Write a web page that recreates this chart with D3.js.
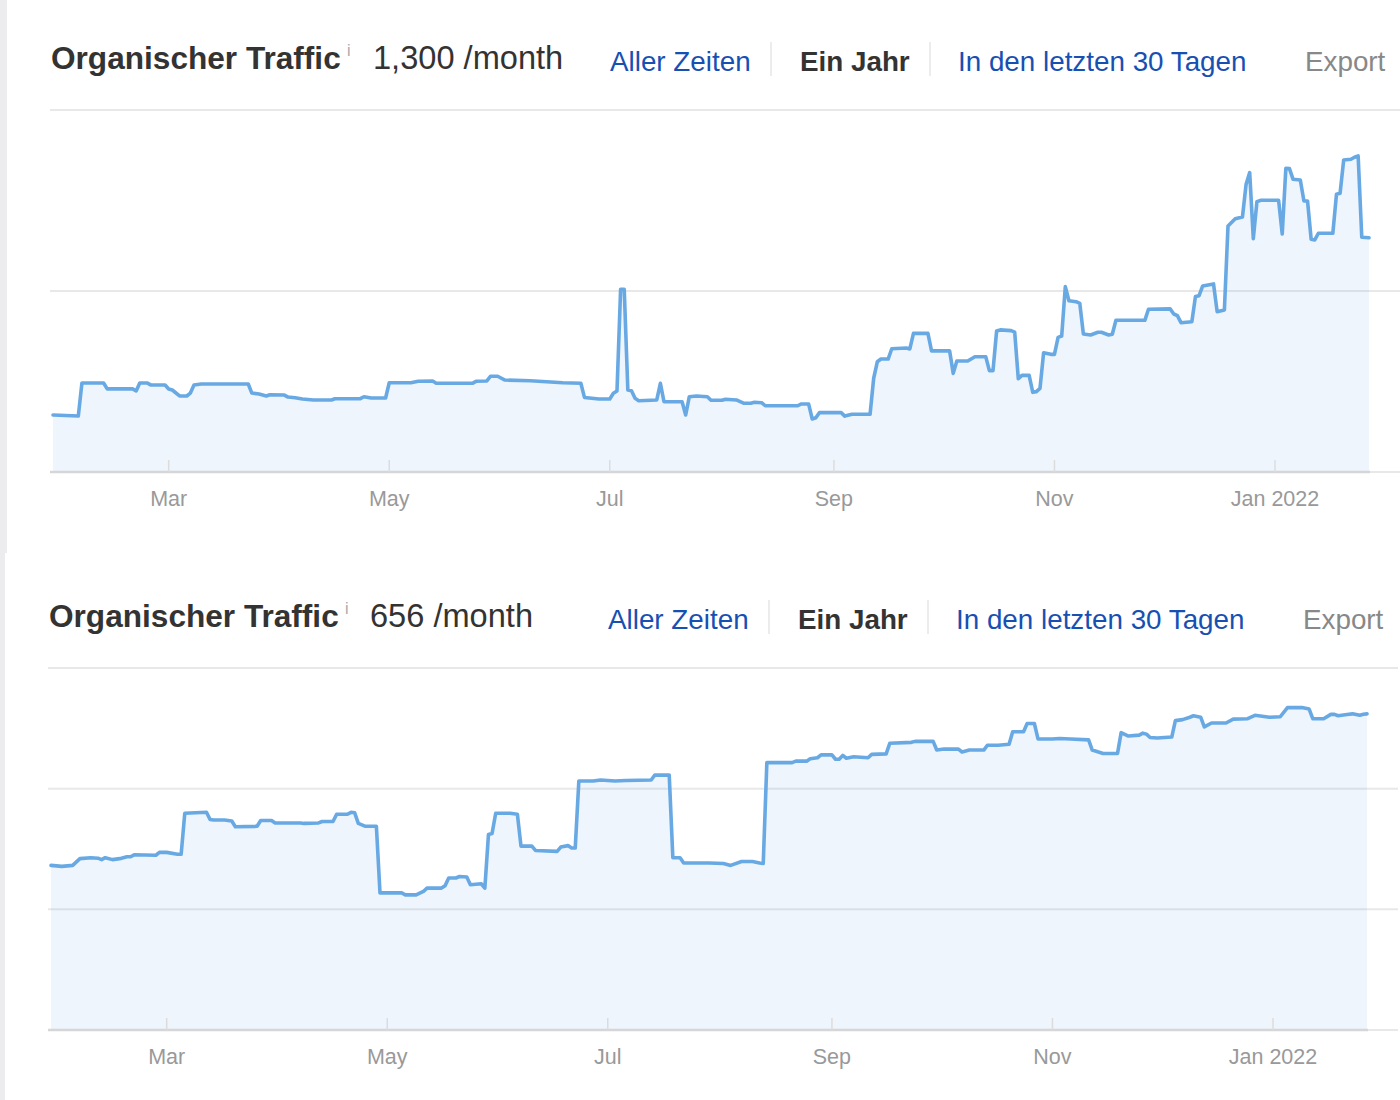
<!DOCTYPE html>
<html><head><meta charset="utf-8">
<script src="https://cdn.jsdelivr.net/npm/d3@7"></script>
<style>
body{margin:0;background:#fff;}
svg{display:block;font-family:"Liberation Sans",Arial,Helvetica,sans-serif;}
</style>
</head><body><svg id="c" width="1400" height="1100"></svg>
<script>
// ---------- data ----------
const startDate = "2021-01-28";
const endDate = "2022-01-27";
const tickDates = ["2021-03-01","2021-05-01","2021-07-01","2021-09-01","2021-11-01","2022-01-01"];
const tickLabels = ["Mar","May","Jul","Sep","Nov","Jan 2022"];
const panelTitles = ["Organischer Traffic","Organischer Traffic"];
const panelValues = ["1,300 /month","656 /month"];
const navLinks = ["Aller Zeiten","Ein Jahr","In den letzten 30 Tagen","Export"];

// days since startDate
const topDays = [0,7,8,14,15,22,23,24,26,27,31,32,33,35,37,38,39,41,54,55,
 57,59,60,64,65,67,69,72,77,78,85,86,88,92,93,99,101,105,106,116,
 117,120,121,123,125,132,141,146,147,151,154,155,156,157,158,159,160,161,162,167,
 168,169,174,175,176,178,181,182,185,186,189,191,193,194,196,197,206,207,209,210,
 211,212,218,219,221,226,227,228,229,231,232,236,237,238,242,243,248,249,250,253,
 255,258,259,260,261,262,265,266,267,268,270,271,272,273,274,276,277,278,279,280,
 281,283,284,285,287,289,290,292,293,294,302,303,309,310,311,312,315,316,317,318,
 321,322,324,325,327,329,330,331,332,333,334,339,340,341,342,343,345,346,347,348,
 349,350,354,355,356,357,359,360,361,362,364];
const topValues = [315,309,492,492,459,459,448,492,492,481,481,459,453,420,420,436,481,486,486,436,
 431,420,427,425,414,410,403,398,398,405,405,416,409,409,493,493,501,503,490,490,
 501,503,529,529,508,504,493,490,412,403,403,435,448,1009,1009,453,449,407,394,398,
 490,388,388,315,416,420,416,396,396,402,398,380,380,385,383,366,366,376,376,293,
 300,328,328,309,319,319,518,609,624,624,681,685,680,766,766,669,669,545,613,613,
 637,637,560,560,779,785,781,773,515,534,534,440,444,462,659,650,650,744,751,1024,
 946,941,932,762,757,772,772,757,761,838,838,899,901,873,864,825,830,969,974,1028,
 1039,886,895,1359,1399,1409,1589,1654,1289,1493,1501,1501,1315,1678,1676,1617,1613,1497,1497,1286,
 1282,1319,1319,1534,1540,1724,1728,1739,1746,1297,1294];

const bottomDays = [0,3,6,8,11,13,14,15,17,19,21,22,23,29,30,32,35,36,37,40,
 43,44,45,48,50,51,57,58,61,62,69,70,74,75,78,79,82,83,84,85,
 87,90,91,97,98,101,103,104,108,109,110,112,113,115,116,119,120,121,122,123,
 127,129,130,133,134,140,141,143,144,145,146,150,152,156,159,166,167,171,172,174,
 175,182,186,188,191,194,196,197,198,205,206,209,210,212,213,216,217,218,219,220,
 222,226,227,231,232,238,239,244,245,247,251,252,254,258,259,262,265,266,269,270,
 272,273,277,279,282,287,288,291,295,296,298,301,302,303,304,306,310,311,313,315,
 316,318,319,321,325,327,331,333,337,340,342,346,348,349,352,354,355,356,359,360,
 362,363,364];
const bottomValues = [341,339,341,355,357,356,353,357,353,355,359,359,363,362,368,368,364,364,449,450,
 451,436,435,435,433,421,422,434,434,429,429,428,429,432,432,447,447,451,450,428,
 422,422,284,284,280,280,287,294,294,299,315,315,318,317,301,303,294,405,407,449,
 449,447,381,381,372,370,379,382,377,377,516,516,518,516,517,518,528,528,357,357,
 346,346,345,341,349,349,346,345,554,554,557,557,562,564,570,570,561,561,569,563,
 566,564,571,572,594,596,598,598,580,582,582,576,580,580,590,590,592,618,618,635,
 635,603,603,604,603,601,580,573,573,616,609,611,615,613,606,605,607,641,643,648,
 651,648,628,636,636,644,645,652,648,649,668,668,665,645,645,654,654,651,654,655,
 652,654,655];

const topGrid = [0,1000,2000];
const bottomGrid = [0,250,500,750];

// ---------- drawing ----------
const parse = d3.timeParse("%Y-%m-%d");
const t0 = parse(startDate), t1 = parse(endDate);
const svg = d3.select("#c");

// left grey strip
svg.append("rect").attr("x",0).attr("y",0).attr("width",7).attr("height",553).attr("fill","#ececee");
svg.append("rect").attr("x",0).attr("y",553).attr("width",5).attr("height",547).attr("fill","#ececee");

const blue = "#1750b3";

function panel(offX, offY, idx, days, values, grid) {
  const g = svg.append("g").attr("transform", `translate(${offX},${offY})`);
  const x = d3.scaleTime().domain([t0, t1]).range([53, 1369]);
  const y = d3.scaleLinear().domain([0, d3.max(grid)]).range([472, 110]);
  const data = days.map((d, i) => ({date: d3.timeDay.offset(t0, d), v: values[i]}));

  // header
  g.append("text").attr("x",51).attr("y",69).attr("font-size",31.6).attr("font-weight","bold")
    .attr("fill","#333").text(panelTitles[idx]);
  g.append("text").attr("x",347).attr("y",56).attr("font-size",16).attr("fill","#aaa").text("i");
  g.append("text").attr("x",idx===1?372:373).attr("y",69).attr("font-size",32.6).attr("fill","#333").text(panelValues[idx]);

  const navX = [610, 800, 958, 1305];
  const navFill = [blue, "#333", blue, "#888"];
  navLinks.forEach((s, i) => {
    g.append("text").attr("x", navX[i]).attr("y", 71).attr("font-size", 27.8)
      .attr("font-weight", i === 1 ? "bold" : "normal").attr("fill", navFill[i]).text(s);
  });
  [771, 930].forEach(sx => g.append("line").attr("x1",sx).attr("x2",sx).attr("y1",42).attr("y2",76)
    .attr("stroke","#e6e6e6").attr("stroke-width",1.5));

  // gridlines
  g.selectAll(".grid").data(grid).enter().append("line")
    .attr("x1",50).attr("x2",1400).attr("y1",d=>y(d)).attr("y2",d=>y(d))
    .attr("stroke","#e8e8e8").attr("stroke-width",2);

  // area + line
  const area = d3.area().x(d=>x(d.date)).y0(y(0)).y1(d=>y(d.v));
  g.append("path").datum(data).attr("d",area).attr("fill","#5b9fe0").attr("fill-opacity",0.1);
  const line = d3.line().x(d=>x(d.date)).y(d=>y(d.v));
  g.append("path").datum(data).attr("d",line).attr("fill","none")
    .attr("stroke","#68a9e4").attr("stroke-width",3.6).attr("stroke-linejoin","round").attr("stroke-linecap","round");

  // axis
  g.append("line").attr("x1",50).attr("x2",1370).attr("y1",y(0)).attr("y2",y(0))
    .attr("stroke","#d6d6d6").attr("stroke-width",2.5);
  const tds = tickDates.map(parse);
  g.selectAll(".tick").data(tds).enter().append("line")
    .attr("x1",d=>x(d)).attr("x2",d=>x(d)).attr("y1",y(0)-12).attr("y2",y(0))
    .attr("stroke","#dcdcdc").attr("stroke-width",1.5);
  g.selectAll(".tl").data(tds).enter().append("text")
    .attr("x",d=>x(d)).attr("y",y(0)+34).attr("text-anchor","middle")
    .attr("font-size",21.5).attr("fill","#999").text((d,i)=>tickLabels[i]);
}

panel(0, 0, 0, topDays, topValues, topGrid);
panel(-2, 558, 1, bottomDays, bottomValues, bottomGrid);
</script>
</body></html>
